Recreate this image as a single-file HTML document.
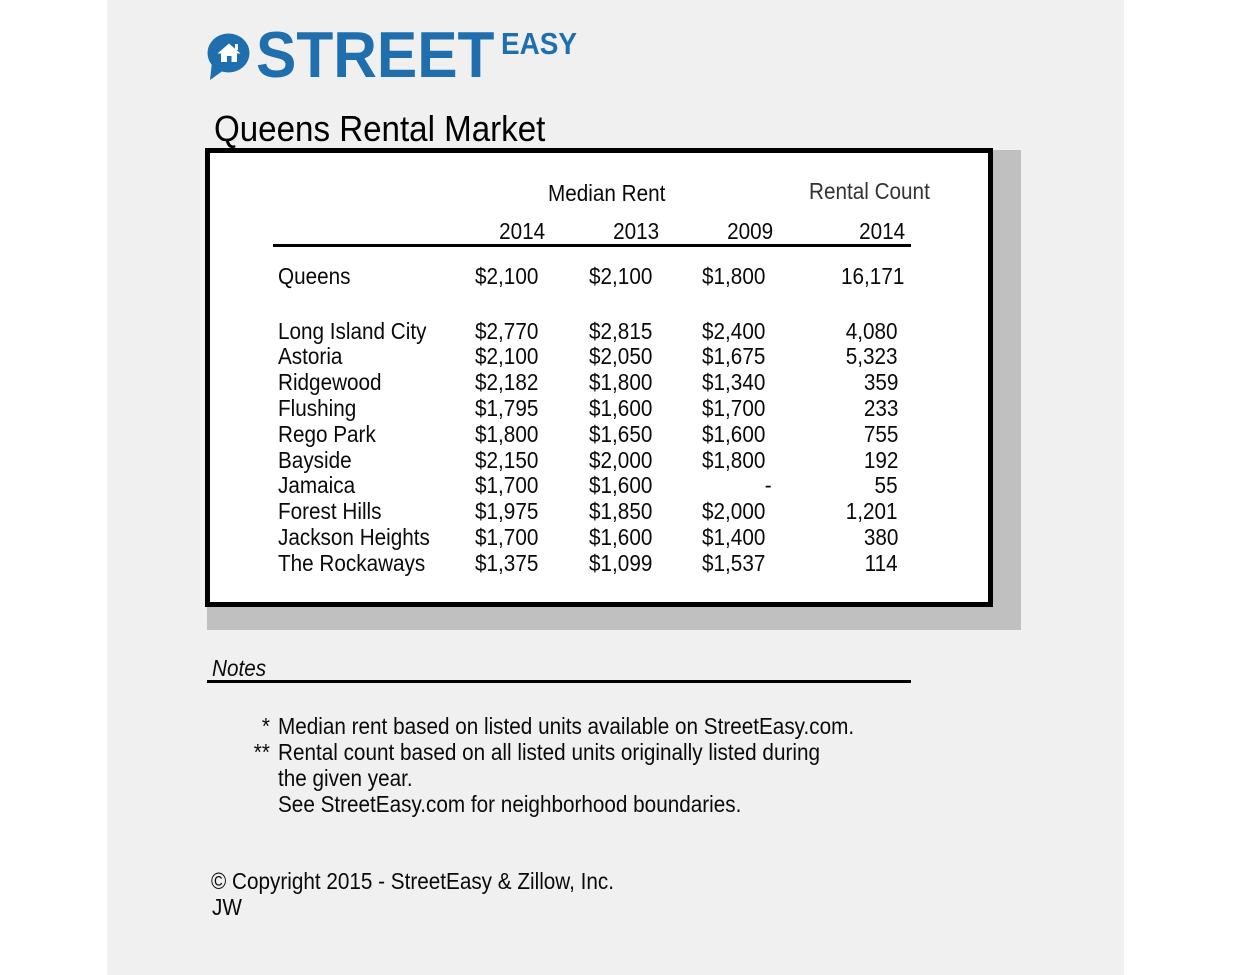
<!DOCTYPE html>
<html>
<head>
<meta charset="utf-8">
<style>
  html,body{margin:0;padding:0;background:#fff;}
  #c{position:relative;width:1244px;height:975px;overflow:hidden;background:#fff;font-family:"Liberation Sans",Arial,sans-serif;color:#0a0a0a;}
  #bg{position:absolute;left:107px;top:0;width:1017px;height:975px;background:#f0f0f0;}
  .t{position:absolute;white-space:nowrap;font-size:23px;line-height:23px;transform:scaleX(0.9);transform-origin:0 0;}
  .r{position:absolute;white-space:nowrap;font-size:23px;line-height:23px;transform:scaleX(0.9);transform-origin:100% 0;text-align:right;}
  #shadow{position:absolute;left:207px;top:150px;width:814px;height:480px;background:#c0c0c0;}
  #box{position:absolute;left:205px;top:148px;width:778px;height:449px;border:5px solid #000;background:#fff;}
  .line{position:absolute;background:#000;}
</style>
</head>
<body>
<div id="c">
  <div id="bg"></div>

  <!-- Logo -->
  <svg style="position:absolute;left:200px;top:25px" width="60" height="60" viewBox="200 25 60 60">
    <ellipse cx="228.5" cy="53" rx="21" ry="19.5" fill="#1f6fae"/>
    <polygon points="212,62 224,70 210,80" fill="#1f6fae"/>
    <polygon points="217.5,53.5 229,43.5 240.5,53.5" fill="#fff"/>
    <rect x="235" y="44" width="3" height="6" fill="#fff"/>
    <rect x="221" y="52" width="16" height="10" fill="#fff"/>
    <rect x="227" y="56" width="4.5" height="6" fill="#1f6fae"/>
  </svg>
  <div style="position:absolute;left:256px;top:22px;font-size:65px;line-height:65px;font-weight:bold;color:#1f6fae;white-space:nowrap;transform:scaleX(0.93);transform-origin:0 0;letter-spacing:0px;">STREET</div>
  <div style="position:absolute;left:501px;top:28px;font-size:31px;line-height:31px;font-weight:bold;color:#1f6fae;white-space:nowrap;transform:scaleX(0.9);transform-origin:0 0;">EASY</div>

  <!-- Title -->
  <div style="position:absolute;left:214px;top:110.5px;font-size:36px;line-height:36px;white-space:nowrap;transform:scaleX(0.92);transform-origin:0 0;color:#000;">Queens Rental Market</div>

  <div id="shadow"></div>
  <div id="box"></div>

  <!-- Headers -->
  <div class="t" style="left:548px;top:181.5px;">Median Rent</div>
  <div class="t" style="left:809px;top:179.5px;color:#333;">Rental Count</div>
  <div class="r" style="right:699px;top:219.5px;">2014</div>
  <div class="r" style="right:585px;top:219.5px;">2013</div>
  <div class="r" style="right:471px;top:219.5px;">2009</div>
  <div class="r" style="right:339px;top:219.5px;">2014</div>
  <div class="line" style="left:273px;top:244px;width:638px;height:3px;"></div>

  <!-- Queens -->
  <div class="t" style="left:278px;top:264.5px;">Queens</div>
  <div class="r" style="right:706px;top:264.5px;">$2,100</div>
  <div class="r" style="right:592px;top:264.5px;">$2,100</div>
  <div class="r" style="right:479px;top:264.5px;">$1,800</div>
  <div class="r" style="right:340px;top:264.5px;">16,171</div>

  <!-- Neighborhoods -->
  <div class="t" style="left:278px;top:319.5px;">Long Island City</div>
  <div class="r" style="right:706px;top:319.5px;">$2,770</div>
  <div class="r" style="right:592px;top:319.5px;">$2,815</div>
  <div class="r" style="right:479px;top:319.5px;">$2,400</div>
  <div class="r" style="right:346px;top:319.5px;">4,080</div>

  <div class="t" style="left:278px;top:345.3px;">Astoria</div>
  <div class="r" style="right:706px;top:345.3px;">$2,100</div>
  <div class="r" style="right:592px;top:345.3px;">$2,050</div>
  <div class="r" style="right:479px;top:345.3px;">$1,675</div>
  <div class="r" style="right:346px;top:345.3px;">5,323</div>

  <div class="t" style="left:278px;top:371.1px;">Ridgewood</div>
  <div class="r" style="right:706px;top:371.1px;">$2,182</div>
  <div class="r" style="right:592px;top:371.1px;">$1,800</div>
  <div class="r" style="right:479px;top:371.1px;">$1,340</div>
  <div class="r" style="right:346px;top:371.1px;">359</div>

  <div class="t" style="left:278px;top:396.9px;">Flushing</div>
  <div class="r" style="right:706px;top:396.9px;">$1,795</div>
  <div class="r" style="right:592px;top:396.9px;">$1,600</div>
  <div class="r" style="right:479px;top:396.9px;">$1,700</div>
  <div class="r" style="right:346px;top:396.9px;">233</div>

  <div class="t" style="left:278px;top:422.7px;">Rego Park</div>
  <div class="r" style="right:706px;top:422.7px;">$1,800</div>
  <div class="r" style="right:592px;top:422.7px;">$1,650</div>
  <div class="r" style="right:479px;top:422.7px;">$1,600</div>
  <div class="r" style="right:346px;top:422.7px;">755</div>

  <div class="t" style="left:278px;top:448.5px;">Bayside</div>
  <div class="r" style="right:706px;top:448.5px;">$2,150</div>
  <div class="r" style="right:592px;top:448.5px;">$2,000</div>
  <div class="r" style="right:479px;top:448.5px;">$1,800</div>
  <div class="r" style="right:346px;top:448.5px;">192</div>

  <div class="t" style="left:278px;top:474.3px;">Jamaica</div>
  <div class="r" style="right:706px;top:474.3px;">$1,700</div>
  <div class="r" style="right:592px;top:474.3px;">$1,600</div>
  <div class="r" style="right:472px;top:474.3px;">-</div>
  <div class="r" style="right:346px;top:474.3px;">55</div>

  <div class="t" style="left:278px;top:500.1px;">Forest Hills</div>
  <div class="r" style="right:706px;top:500.1px;">$1,975</div>
  <div class="r" style="right:592px;top:500.1px;">$1,850</div>
  <div class="r" style="right:479px;top:500.1px;">$2,000</div>
  <div class="r" style="right:346px;top:500.1px;">1,201</div>

  <div class="t" style="left:278px;top:525.9px;">Jackson Heights</div>
  <div class="r" style="right:706px;top:525.9px;">$1,700</div>
  <div class="r" style="right:592px;top:525.9px;">$1,600</div>
  <div class="r" style="right:479px;top:525.9px;">$1,400</div>
  <div class="r" style="right:346px;top:525.9px;">380</div>

  <div class="t" style="left:278px;top:551.7px;">The Rockaways</div>
  <div class="r" style="right:706px;top:551.7px;">$1,375</div>
  <div class="r" style="right:592px;top:551.7px;">$1,099</div>
  <div class="r" style="right:479px;top:551.7px;">$1,537</div>
  <div class="r" style="right:346px;top:551.7px;">114</div>

  <!-- Notes -->
  <div class="t" style="left:212px;top:657px;font-style:italic;">Notes</div>
  <div class="line" style="left:207px;top:680px;width:704px;height:3px;"></div>

  <div class="r" style="right:974px;top:715px;">*</div>
  <div class="t" style="left:278px;top:715px;">Median rent based on listed units available on StreetEasy.com.</div>
  <div class="r" style="right:974px;top:741px;">**</div>
  <div class="t" style="left:278px;top:741px;">Rental count based on all listed units originally listed during</div>
  <div class="t" style="left:278px;top:767px;">the given year.</div>
  <div class="t" style="left:278px;top:793px;">See StreetEasy.com for neighborhood boundaries.</div>

  <div class="t" style="left:211px;top:870px;">© Copyright 2015 - StreetEasy &amp; Zillow, Inc.</div>
  <div class="t" style="left:212px;top:896px;">JW</div>
</div>
</body>
</html>
